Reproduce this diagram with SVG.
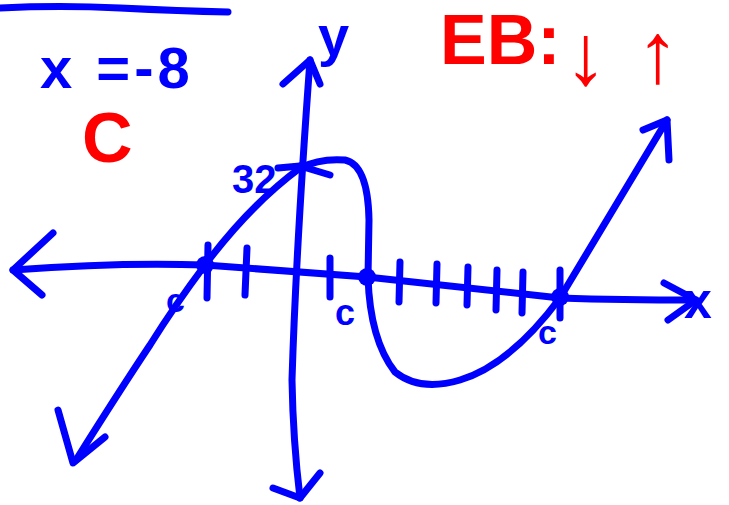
<svg xmlns="http://www.w3.org/2000/svg" width="729" height="505" viewBox="0 0 729 505">
<style>
.s{fill:none;stroke:#0000ff;stroke-width:7;stroke-linecap:round;stroke-linejoin:round}
.b{fill:#0000ff;font-family:"Liberation Sans",Arial,sans-serif;font-weight:bold}
.r{fill:#ff0000;font-family:"Liberation Sans",Arial,sans-serif;font-weight:bold}
.d{fill:#0000ff}
</style>
<rect width="729" height="505" fill="#ffffff"/>
<g id="notes">
<path class="s" d="M0 8 Q60 5 120 8 T228 12"/>
<text class="b" x="40" y="88" font-size="58" letter-spacing="4">x =-8</text>
<text class="r" x="82" y="162" font-size="70">C</text>
<text class="r" x="440" y="64" font-size="70">EB:</text>
<text class="r" x="564" y="84" font-size="86">↓</text>
<text class="r" x="636" y="82" font-size="86">↑</text>
</g>
<g id="axes">
<path class="s" d="M13 270 Q120 262 205 265 L367 277 L560 298 Q620 300 696 300"/>
<path class="s" d="M53 233 L13 270 L42 295"/>
<path class="s" d="M664 283 L696 300 L668 320"/>
<path class="s" d="M310 60 Q296 250 292 380 Q293 440 300 498"/>
<path class="s" d="M283 84 L310 60 L320 84"/>
<path class="s" d="M273 488 L300 498 L320 473"/>
<text class="b" x="318" y="55" font-size="56">y</text>
<text class="b" x="684" y="318" font-size="50">x</text>
</g>
<g id="ticks">
<path class="s" d="M208 245 L207 298 M247 248 L245 295 M330 258 L330 297 M400 262 L399 302 M437 264 L436 303 M468 267 L467 305 M497 270 L496 310 M523 272 L522 313 M560 270 L560 318 M278 168 L300 166"/>
</g>
<g id="curve">
<path class="s" d="M58 410 L73 463 L105 437"/>
<path class="s" d="M76 460 Q120 390 150 345 Q175 305 205 265 Q250 205 300 168 Q320 158 345 160 Q368 165 369 220 L368 277 Q370 340 395 372 Q420 392 460 380 Q510 365 560 298 Q610 215 667 120"/>
<path class="s" d="M643 130 L667 120 L669 160"/>
<path class="s" d="M300 166 L330 175"/>
<circle class="d" cx="205" cy="265" r="9"/>
<circle class="d" cx="367" cy="277" r="9"/>
<circle class="d" cx="560" cy="297" r="9"/>
<text class="b" x="232" y="193" font-size="40">32</text>
<text class="b" x="166" y="312" font-size="34">c</text>
<text class="b" x="335" y="325" font-size="36">c</text>
<text class="b" x="538" y="344" font-size="34">c</text>
</g>
</svg>
